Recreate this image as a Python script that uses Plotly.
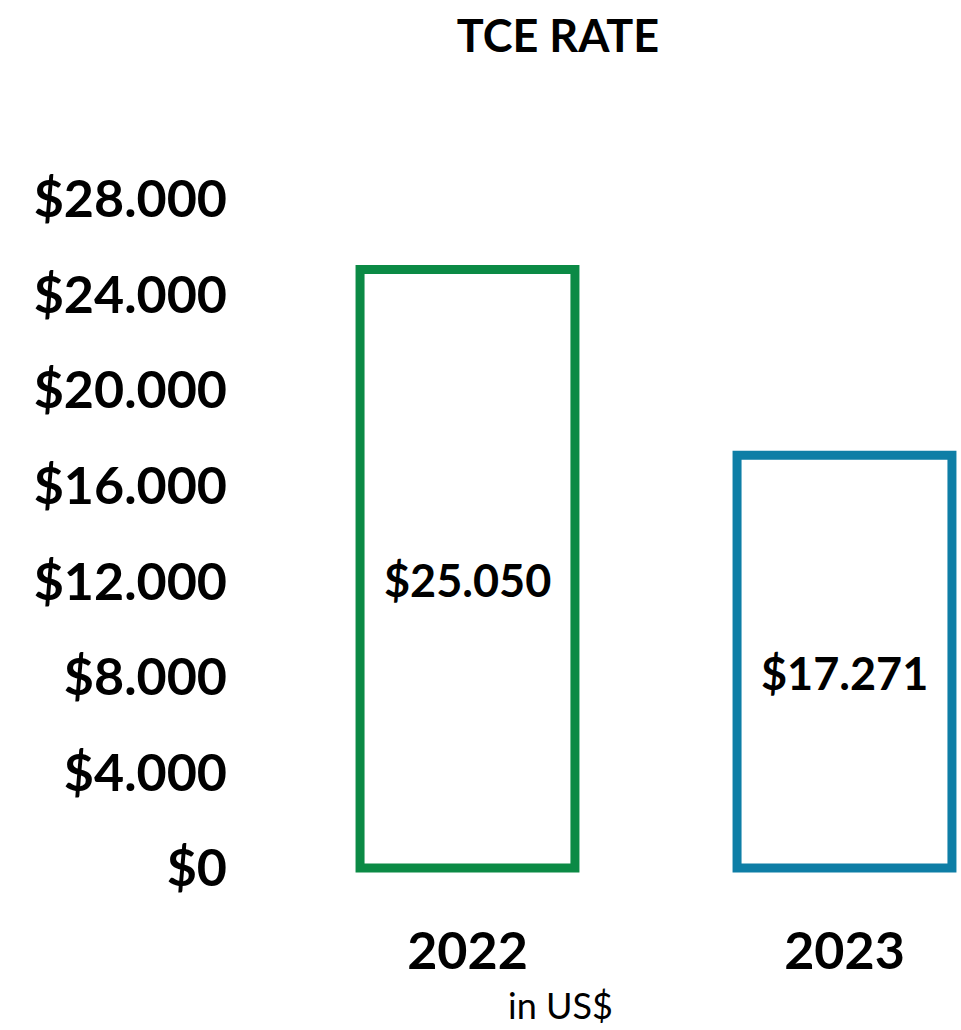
import plotly.graph_objects as go

# TCE rate per year, in US$
years = ["2022", "2023"]
tce_rate = [25050, 17271]
rate_labels = ["$25.050", "$17.271"]
y_ticks = [0, 4000, 8000, 12000, 16000, 20000, 24000, 28000]
y_tick_labels = ["$0", "$4.000", "$8.000", "$12.000", "$16.000", "$20.000", "$24.000", "$28.000"]

edge_colors = ["#0b8a45", "#0e7ea6"]

FONT = "Lato"

fig = go.Figure()

fig.add_trace(go.Bar(
    x=years,
    y=tce_rate,
    width=0.57,
    marker=dict(color="white", line=dict(color=edge_colors, width=9)),
    hoverinfo="skip",
))

# value labels sit a little below the middle of each bar
# (category axis: annotations are placed by category index)
annotations = [
    dict(
        x=i, y=v / 2, xref="x", yref="y",
        text=f"<b>{lbl}</b>", showarrow=False,
        xanchor="center", yanchor="middle", yshift=-11,
        font=dict(family=FONT, size=45, color="black"),
    )
    for i, (v, lbl) in enumerate(zip(tce_rate, rate_labels))
]
annotations.append(dict(
    text="in US$",
    xref="paper", yref="paper",
    x=(560 - 240) / 721, y=-(1005 - 874) / 675,
    xanchor="center", yanchor="middle",
    showarrow=False,
    font=dict(family=FONT, size=36, color="black"),
))

fig.update_layout(
    width=961,
    height=1030,
    margin=dict(l=240, r=0, t=199, b=156),
    paper_bgcolor="white",
    plot_bgcolor="white",
    showlegend=False,
    title=dict(
        text="<b>TCE RATE</b>",
        xref="container", x=558 / 961, xanchor="center",
        yref="container", y=1 - 36 / 1030, yanchor="middle",
        font=dict(family=FONT, size=45, color="black"),
    ),
    xaxis=dict(
        type="category",
        range=[-0.6034, 1.309],
        showgrid=False, zeroline=False, showline=False, ticks="",
        ticklabelstandoff=42,
        tickfont=dict(family=FONT, size=52, color="black", weight="bold"),
        automargin=False,
    ),
    yaxis=dict(
        range=[-250, 28000],
        tickvals=y_ticks,
        ticktext=y_tick_labels,
        showgrid=False, zeroline=False, showline=False, ticks="",
        ticklabelstandoff=12,
        tickfont=dict(family=FONT, size=52, color="black", weight="bold"),
        automargin=False,
    ),
    annotations=annotations,
)

fig.write_html("out.html")
